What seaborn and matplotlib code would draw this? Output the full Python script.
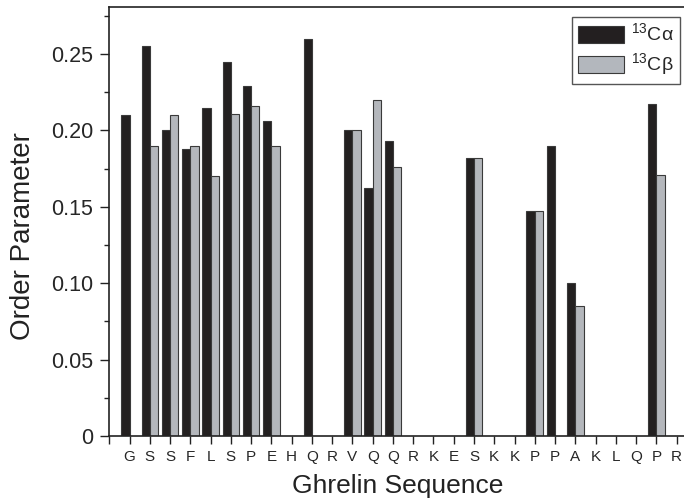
import numpy as np
import pandas as pd
import matplotlib
matplotlib.use("Agg")
import matplotlib.pyplot as plt
from matplotlib.patches import Patch
from matplotlib.ticker import MultipleLocator, FixedLocator
import seaborn as sns

residues = list("GSSFLSPEHQRVQQRKESKKPPAKLQPR")
ca_values = [0.210, 0.255, 0.200, 0.188, 0.215, 0.245, 0.229, 0.206, np.nan, 0.260,
             np.nan, 0.200, 0.162, 0.193, np.nan, np.nan, np.nan, 0.182, np.nan, np.nan,
             0.147, 0.190, 0.100, np.nan, np.nan, np.nan, 0.217, np.nan]
cb_values = [np.nan, 0.190, 0.210, 0.190, 0.170, 0.211, 0.216, 0.190, np.nan, np.nan,
             np.nan, 0.200, 0.220, 0.176, np.nan, np.nan, np.nan, 0.182, np.nan, np.nan,
             0.147, np.nan, 0.085, np.nan, np.nan, np.nan, 0.171, np.nan]
series_names = ["Ca", "Cb"]
series_labels = ["$^{13}$Cα", "$^{13}$Cβ"]
colors = {"Ca": "#231f20", "Cb": "#b3b7bd"}

positions = list(range(1, len(residues) + 1))
df = pd.DataFrame({
    "pos": positions * 2,
    "series": ["Ca"] * len(residues) + ["Cb"] * len(residues),
    "value": ca_values + cb_values,
}).dropna()

sns.set_style("ticks")
plt.rcParams["font.family"] = ["Liberation Sans", "DejaVu Sans"]
plt.rcParams["mathtext.fontset"] = "custom"
plt.rcParams["mathtext.rm"] = "Liberation Sans"

fig = plt.figure(figsize=(6.84, 5.01), dpi=100)
ax = fig.add_axes([0.1598, 0.1297, 0.8427, 0.857])

sns.barplot(data=df, x="pos", y="value", hue="series", order=positions,
            hue_order=series_names, palette=colors, dodge=True, width=0.82,
            errorbar=None, edgecolor="#3a3a3a", linewidth=0.8, legend=False, ax=ax)

ax.set_xlim(-1, 27.45)
ax.set_ylim(0, 0.281)
ax.xaxis.set_major_locator(FixedLocator(list(range(-1, 28))))
ax.set_xticklabels([""] + residues)
ax.set_yticks([0, 0.05, 0.10, 0.15, 0.20, 0.25])
ax.set_yticklabels(["0", "0.05", "0.10", "0.15", "0.20", "0.25"])
ax.yaxis.set_minor_locator(MultipleLocator(0.025))

ax.tick_params(axis="y", which="major", direction="out", length=6.5, width=1.0,
               labelsize=15.5, pad=5, color="#222222")
ax.tick_params(axis="y", which="minor", direction="out", length=3.5, width=1.0, color="#222222")
ax.tick_params(axis="x", which="major", direction="out", length=6, width=1.0,
               labelsize=11, pad=4, color="#222222")

for s in ["left", "bottom", "top", "right"]:
    ax.spines[s].set_visible(True)
    ax.spines[s].set_linewidth(1.2)
    ax.spines[s].set_color("#222222")

ax.set_xlabel("Ghrelin Sequence", fontsize=19, labelpad=7, color="#222222")
ax.set_ylabel("Order Parameter", fontsize=20, color="#222222")
ax.yaxis.set_label_coords(-0.128, 0.466)

handles = [Patch(facecolor=colors[k], edgecolor="#3a3a3a", linewidth=0.8) for k in series_names]
leg = ax.legend(handles, series_labels, loc="upper right", bbox_to_anchor=(0.990, 0.976),
                fancybox=False, edgecolor="#555555", framealpha=1, fontsize=14,
                handlelength=2.35, handleheight=0.95, handletextpad=0.4,
                borderpad=0.3, labelspacing=0.3, borderaxespad=0)
leg.get_frame().set_linewidth(1.0)

fig.savefig("out.png", dpi=100)
